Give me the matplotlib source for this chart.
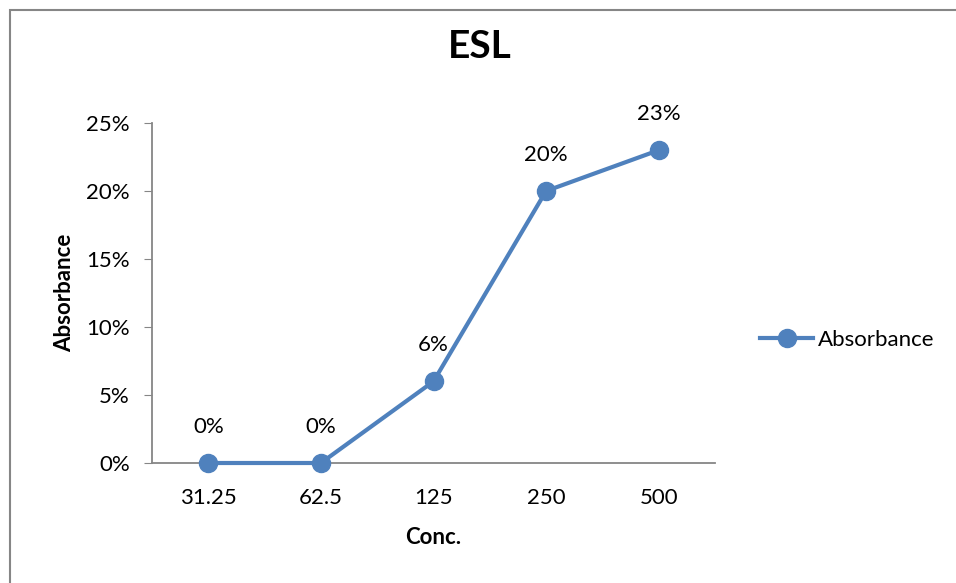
import matplotlib.pyplot as plt
from matplotlib.patches import Rectangle
from matplotlib.ticker import FuncFormatter

concs = ["31.25", "62.5", "125", "250", "500"]
absorbance = [0.0, 0.0, 0.06, 0.20, 0.23]
labels = ["0%", "0%", "6%", "20%", "23%"]
yticks = [0.0, 0.05, 0.10, 0.15, 0.20, 0.25]

blue = "#4F81BD"
grey = "#868686"
plt.rcParams['font.family'] = ['Lato', 'DejaVu Sans']

fig = plt.figure(figsize=(9.56, 5.83), dpi=100)
ax = fig.add_axes([152 / 956, 1 - 463 / 583, (715 - 152) / 956, (463 - 123) / 583])

# outer chart border
fig.patches.append(Rectangle((10 / 956, -0.05), 1.0, 1 - 10 / 583 + 0.05,
                             transform=fig.transFigure, fill=False,
                             edgecolor=grey, linewidth=1.5))

x = list(range(len(concs)))
ax.plot(x, absorbance, color=blue, linewidth=3, marker='o', markersize=13,
        label="Absorbance", clip_on=False, zorder=3)
for xi, yi, lab in zip(x, absorbance, labels):
    ax.annotate(lab, (xi, yi), xytext=(0, 26), textcoords='offset points',
                ha='center', va='center', fontsize=16)

ax.set_xlim(-0.5, 4.5)
ax.set_ylim(0, 0.25)
ax.set_xticks(x)
ax.set_xticklabels(concs)
ax.set_yticks(yticks)
ax.yaxis.set_major_formatter(FuncFormatter(lambda v, p: f"{v * 100:.0f}%"))
ax.tick_params(axis='x', length=0, labelsize=16, pad=18)
ax.tick_params(axis='y', length=6, color=grey, labelsize=16, pad=10)

for s in ['top', 'right']:
    ax.spines[s].set_visible(False)
ax.spines['left'].set_color(grey)
ax.spines['bottom'].set_color(grey)
ax.spines['left'].set_linewidth(1.3)
ax.spines['bottom'].set_linewidth(1.3)

ax.set_xlabel("Conc.", fontsize=16, fontweight='bold', labelpad=14)
ax.set_ylabel("Absorbance", fontsize=16, fontweight='bold', labelpad=8)
fig.text(480 / 956, 1 - 47 / 583, "ESL", ha='center', va='center',
         fontsize=28, fontweight='bold')

fig.legend(loc='center left', bbox_to_anchor=(740 / 956, 1 - 340 / 583),
           frameon=False, fontsize=16, handlelength=2.4, handletextpad=0.2)

fig.savefig("out.png", dpi=100)
